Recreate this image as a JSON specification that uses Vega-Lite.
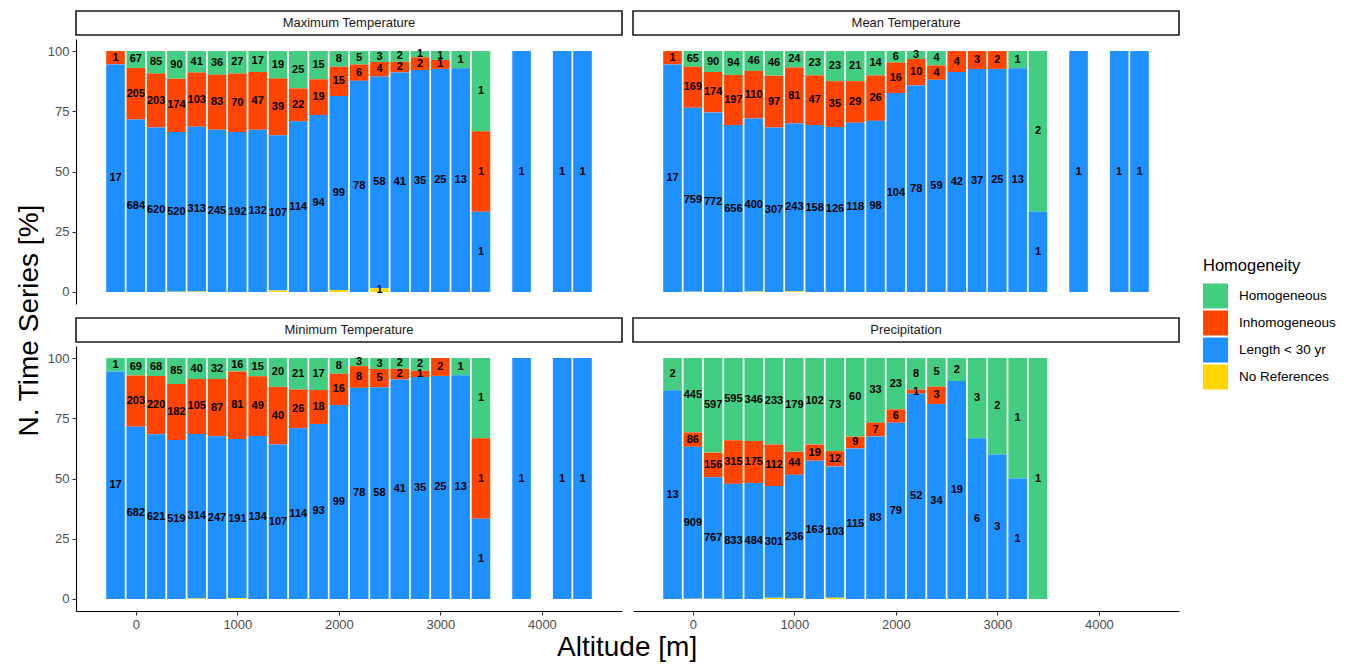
{
  "$schema": "https://vega.github.io/schema/vega-lite/v6.json",
  "padding": {"left": 16, "top": 10, "right": 5, "bottom": 0},
  "background": "white",
  "config": {"font": "Liberation Sans", "view": {"stroke": null}},
  "datasets": {
    "ts": [
      {"variable": "Maximum Temperature", "altitude": -200, "homogeneity": "Inhomogeneous", "n": 1},
      {"variable": "Maximum Temperature", "altitude": -200, "homogeneity": "Length < 30 yr", "n": 17},
      {"variable": "Maximum Temperature", "altitude": 0, "homogeneity": "Homogeneous", "n": 67},
      {"variable": "Maximum Temperature", "altitude": 0, "homogeneity": "Inhomogeneous", "n": 205},
      {"variable": "Maximum Temperature", "altitude": 0, "homogeneity": "Length < 30 yr", "n": 684},
      {"variable": "Maximum Temperature", "altitude": 200, "homogeneity": "Homogeneous", "n": 85},
      {"variable": "Maximum Temperature", "altitude": 200, "homogeneity": "Inhomogeneous", "n": 203},
      {"variable": "Maximum Temperature", "altitude": 200, "homogeneity": "Length < 30 yr", "n": 620},
      {"variable": "Maximum Temperature", "altitude": 400, "homogeneity": "Homogeneous", "n": 90},
      {"variable": "Maximum Temperature", "altitude": 400, "homogeneity": "Inhomogeneous", "n": 174},
      {"variable": "Maximum Temperature", "altitude": 400, "homogeneity": "Length < 30 yr", "n": 520},
      {"variable": "Maximum Temperature", "altitude": 400, "homogeneity": "No References", "n": 1},
      {"variable": "Maximum Temperature", "altitude": 600, "homogeneity": "Homogeneous", "n": 41},
      {"variable": "Maximum Temperature", "altitude": 600, "homogeneity": "Inhomogeneous", "n": 103},
      {"variable": "Maximum Temperature", "altitude": 600, "homogeneity": "Length < 30 yr", "n": 313},
      {"variable": "Maximum Temperature", "altitude": 600, "homogeneity": "No References", "n": 1},
      {"variable": "Maximum Temperature", "altitude": 800, "homogeneity": "Homogeneous", "n": 36},
      {"variable": "Maximum Temperature", "altitude": 800, "homogeneity": "Inhomogeneous", "n": 83},
      {"variable": "Maximum Temperature", "altitude": 800, "homogeneity": "Length < 30 yr", "n": 245},
      {"variable": "Maximum Temperature", "altitude": 1000, "homogeneity": "Homogeneous", "n": 27},
      {"variable": "Maximum Temperature", "altitude": 1000, "homogeneity": "Inhomogeneous", "n": 70},
      {"variable": "Maximum Temperature", "altitude": 1000, "homogeneity": "Length < 30 yr", "n": 192},
      {"variable": "Maximum Temperature", "altitude": 1200, "homogeneity": "Homogeneous", "n": 17},
      {"variable": "Maximum Temperature", "altitude": 1200, "homogeneity": "Inhomogeneous", "n": 47},
      {"variable": "Maximum Temperature", "altitude": 1200, "homogeneity": "Length < 30 yr", "n": 132},
      {"variable": "Maximum Temperature", "altitude": 1400, "homogeneity": "Homogeneous", "n": 19},
      {"variable": "Maximum Temperature", "altitude": 1400, "homogeneity": "Inhomogeneous", "n": 39},
      {"variable": "Maximum Temperature", "altitude": 1400, "homogeneity": "Length < 30 yr", "n": 107},
      {"variable": "Maximum Temperature", "altitude": 1400, "homogeneity": "No References", "n": 1},
      {"variable": "Maximum Temperature", "altitude": 1600, "homogeneity": "Homogeneous", "n": 25},
      {"variable": "Maximum Temperature", "altitude": 1600, "homogeneity": "Inhomogeneous", "n": 22},
      {"variable": "Maximum Temperature", "altitude": 1600, "homogeneity": "Length < 30 yr", "n": 114},
      {"variable": "Maximum Temperature", "altitude": 1800, "homogeneity": "Homogeneous", "n": 15},
      {"variable": "Maximum Temperature", "altitude": 1800, "homogeneity": "Inhomogeneous", "n": 19},
      {"variable": "Maximum Temperature", "altitude": 1800, "homogeneity": "Length < 30 yr", "n": 94},
      {"variable": "Maximum Temperature", "altitude": 2000, "homogeneity": "Homogeneous", "n": 8},
      {"variable": "Maximum Temperature", "altitude": 2000, "homogeneity": "Inhomogeneous", "n": 15},
      {"variable": "Maximum Temperature", "altitude": 2000, "homogeneity": "Length < 30 yr", "n": 99},
      {"variable": "Maximum Temperature", "altitude": 2000, "homogeneity": "No References", "n": 1},
      {"variable": "Maximum Temperature", "altitude": 2200, "homogeneity": "Homogeneous", "n": 5},
      {"variable": "Maximum Temperature", "altitude": 2200, "homogeneity": "Inhomogeneous", "n": 6},
      {"variable": "Maximum Temperature", "altitude": 2200, "homogeneity": "Length < 30 yr", "n": 78},
      {"variable": "Maximum Temperature", "altitude": 2400, "homogeneity": "Homogeneous", "n": 3},
      {"variable": "Maximum Temperature", "altitude": 2400, "homogeneity": "Inhomogeneous", "n": 4},
      {"variable": "Maximum Temperature", "altitude": 2400, "homogeneity": "Length < 30 yr", "n": 58},
      {"variable": "Maximum Temperature", "altitude": 2400, "homogeneity": "No References", "n": 1},
      {"variable": "Maximum Temperature", "altitude": 2600, "homogeneity": "Homogeneous", "n": 2},
      {"variable": "Maximum Temperature", "altitude": 2600, "homogeneity": "Inhomogeneous", "n": 2},
      {"variable": "Maximum Temperature", "altitude": 2600, "homogeneity": "Length < 30 yr", "n": 41},
      {"variable": "Maximum Temperature", "altitude": 2800, "homogeneity": "Homogeneous", "n": 1},
      {"variable": "Maximum Temperature", "altitude": 2800, "homogeneity": "Inhomogeneous", "n": 2},
      {"variable": "Maximum Temperature", "altitude": 2800, "homogeneity": "Length < 30 yr", "n": 35},
      {"variable": "Maximum Temperature", "altitude": 3000, "homogeneity": "Homogeneous", "n": 1},
      {"variable": "Maximum Temperature", "altitude": 3000, "homogeneity": "Inhomogeneous", "n": 1},
      {"variable": "Maximum Temperature", "altitude": 3000, "homogeneity": "Length < 30 yr", "n": 25},
      {"variable": "Maximum Temperature", "altitude": 3200, "homogeneity": "Homogeneous", "n": 1},
      {"variable": "Maximum Temperature", "altitude": 3200, "homogeneity": "Length < 30 yr", "n": 13},
      {"variable": "Maximum Temperature", "altitude": 3400, "homogeneity": "Homogeneous", "n": 1},
      {"variable": "Maximum Temperature", "altitude": 3400, "homogeneity": "Inhomogeneous", "n": 1},
      {"variable": "Maximum Temperature", "altitude": 3400, "homogeneity": "Length < 30 yr", "n": 1},
      {"variable": "Maximum Temperature", "altitude": 3800, "homogeneity": "Length < 30 yr", "n": 1},
      {"variable": "Maximum Temperature", "altitude": 4200, "homogeneity": "Length < 30 yr", "n": 1},
      {"variable": "Maximum Temperature", "altitude": 4400, "homogeneity": "Length < 30 yr", "n": 1},

      {"variable": "Mean Temperature", "altitude": -200, "homogeneity": "Inhomogeneous", "n": 1},
      {"variable": "Mean Temperature", "altitude": -200, "homogeneity": "Length < 30 yr", "n": 17},
      {"variable": "Mean Temperature", "altitude": 0, "homogeneity": "Homogeneous", "n": 65},
      {"variable": "Mean Temperature", "altitude": 0, "homogeneity": "Inhomogeneous", "n": 169},
      {"variable": "Mean Temperature", "altitude": 0, "homogeneity": "Length < 30 yr", "n": 759},
      {"variable": "Mean Temperature", "altitude": 0, "homogeneity": "No References", "n": 1},
      {"variable": "Mean Temperature", "altitude": 200, "homogeneity": "Homogeneous", "n": 90},
      {"variable": "Mean Temperature", "altitude": 200, "homogeneity": "Inhomogeneous", "n": 174},
      {"variable": "Mean Temperature", "altitude": 200, "homogeneity": "Length < 30 yr", "n": 772},
      {"variable": "Mean Temperature", "altitude": 400, "homogeneity": "Homogeneous", "n": 94},
      {"variable": "Mean Temperature", "altitude": 400, "homogeneity": "Inhomogeneous", "n": 197},
      {"variable": "Mean Temperature", "altitude": 400, "homogeneity": "Length < 30 yr", "n": 656},
      {"variable": "Mean Temperature", "altitude": 600, "homogeneity": "Homogeneous", "n": 46},
      {"variable": "Mean Temperature", "altitude": 600, "homogeneity": "Inhomogeneous", "n": 110},
      {"variable": "Mean Temperature", "altitude": 600, "homogeneity": "Length < 30 yr", "n": 400},
      {"variable": "Mean Temperature", "altitude": 600, "homogeneity": "No References", "n": 1},
      {"variable": "Mean Temperature", "altitude": 800, "homogeneity": "Homogeneous", "n": 46},
      {"variable": "Mean Temperature", "altitude": 800, "homogeneity": "Inhomogeneous", "n": 97},
      {"variable": "Mean Temperature", "altitude": 800, "homogeneity": "Length < 30 yr", "n": 307},
      {"variable": "Mean Temperature", "altitude": 1000, "homogeneity": "Homogeneous", "n": 24},
      {"variable": "Mean Temperature", "altitude": 1000, "homogeneity": "Inhomogeneous", "n": 81},
      {"variable": "Mean Temperature", "altitude": 1000, "homogeneity": "Length < 30 yr", "n": 243},
      {"variable": "Mean Temperature", "altitude": 1000, "homogeneity": "No References", "n": 1},
      {"variable": "Mean Temperature", "altitude": 1200, "homogeneity": "Homogeneous", "n": 23},
      {"variable": "Mean Temperature", "altitude": 1200, "homogeneity": "Inhomogeneous", "n": 47},
      {"variable": "Mean Temperature", "altitude": 1200, "homogeneity": "Length < 30 yr", "n": 158},
      {"variable": "Mean Temperature", "altitude": 1400, "homogeneity": "Homogeneous", "n": 23},
      {"variable": "Mean Temperature", "altitude": 1400, "homogeneity": "Inhomogeneous", "n": 35},
      {"variable": "Mean Temperature", "altitude": 1400, "homogeneity": "Length < 30 yr", "n": 126},
      {"variable": "Mean Temperature", "altitude": 1600, "homogeneity": "Homogeneous", "n": 21},
      {"variable": "Mean Temperature", "altitude": 1600, "homogeneity": "Inhomogeneous", "n": 29},
      {"variable": "Mean Temperature", "altitude": 1600, "homogeneity": "Length < 30 yr", "n": 118},
      {"variable": "Mean Temperature", "altitude": 1800, "homogeneity": "Homogeneous", "n": 14},
      {"variable": "Mean Temperature", "altitude": 1800, "homogeneity": "Inhomogeneous", "n": 26},
      {"variable": "Mean Temperature", "altitude": 1800, "homogeneity": "Length < 30 yr", "n": 98},
      {"variable": "Mean Temperature", "altitude": 2000, "homogeneity": "Homogeneous", "n": 6},
      {"variable": "Mean Temperature", "altitude": 2000, "homogeneity": "Inhomogeneous", "n": 16},
      {"variable": "Mean Temperature", "altitude": 2000, "homogeneity": "Length < 30 yr", "n": 104},
      {"variable": "Mean Temperature", "altitude": 2200, "homogeneity": "Homogeneous", "n": 3},
      {"variable": "Mean Temperature", "altitude": 2200, "homogeneity": "Inhomogeneous", "n": 10},
      {"variable": "Mean Temperature", "altitude": 2200, "homogeneity": "Length < 30 yr", "n": 78},
      {"variable": "Mean Temperature", "altitude": 2400, "homogeneity": "Homogeneous", "n": 4},
      {"variable": "Mean Temperature", "altitude": 2400, "homogeneity": "Inhomogeneous", "n": 4},
      {"variable": "Mean Temperature", "altitude": 2400, "homogeneity": "Length < 30 yr", "n": 59},
      {"variable": "Mean Temperature", "altitude": 2600, "homogeneity": "Inhomogeneous", "n": 4},
      {"variable": "Mean Temperature", "altitude": 2600, "homogeneity": "Length < 30 yr", "n": 42},
      {"variable": "Mean Temperature", "altitude": 2800, "homogeneity": "Inhomogeneous", "n": 3},
      {"variable": "Mean Temperature", "altitude": 2800, "homogeneity": "Length < 30 yr", "n": 37},
      {"variable": "Mean Temperature", "altitude": 3000, "homogeneity": "Inhomogeneous", "n": 2},
      {"variable": "Mean Temperature", "altitude": 3000, "homogeneity": "Length < 30 yr", "n": 25},
      {"variable": "Mean Temperature", "altitude": 3200, "homogeneity": "Homogeneous", "n": 1},
      {"variable": "Mean Temperature", "altitude": 3200, "homogeneity": "Length < 30 yr", "n": 13},
      {"variable": "Mean Temperature", "altitude": 3400, "homogeneity": "Homogeneous", "n": 2},
      {"variable": "Mean Temperature", "altitude": 3400, "homogeneity": "Length < 30 yr", "n": 1},
      {"variable": "Mean Temperature", "altitude": 3800, "homogeneity": "Length < 30 yr", "n": 1},
      {"variable": "Mean Temperature", "altitude": 4200, "homogeneity": "Length < 30 yr", "n": 1},
      {"variable": "Mean Temperature", "altitude": 4400, "homogeneity": "Length < 30 yr", "n": 1},

      {"variable": "Minimum Temperature", "altitude": -200, "homogeneity": "Homogeneous", "n": 1},
      {"variable": "Minimum Temperature", "altitude": -200, "homogeneity": "Length < 30 yr", "n": 17},
      {"variable": "Minimum Temperature", "altitude": 0, "homogeneity": "Homogeneous", "n": 69},
      {"variable": "Minimum Temperature", "altitude": 0, "homogeneity": "Inhomogeneous", "n": 203},
      {"variable": "Minimum Temperature", "altitude": 0, "homogeneity": "Length < 30 yr", "n": 682},
      {"variable": "Minimum Temperature", "altitude": 200, "homogeneity": "Homogeneous", "n": 68},
      {"variable": "Minimum Temperature", "altitude": 200, "homogeneity": "Inhomogeneous", "n": 220},
      {"variable": "Minimum Temperature", "altitude": 200, "homogeneity": "Length < 30 yr", "n": 621},
      {"variable": "Minimum Temperature", "altitude": 400, "homogeneity": "Homogeneous", "n": 85},
      {"variable": "Minimum Temperature", "altitude": 400, "homogeneity": "Inhomogeneous", "n": 182},
      {"variable": "Minimum Temperature", "altitude": 400, "homogeneity": "Length < 30 yr", "n": 519},
      {"variable": "Minimum Temperature", "altitude": 600, "homogeneity": "Homogeneous", "n": 40},
      {"variable": "Minimum Temperature", "altitude": 600, "homogeneity": "Inhomogeneous", "n": 105},
      {"variable": "Minimum Temperature", "altitude": 600, "homogeneity": "Length < 30 yr", "n": 314},
      {"variable": "Minimum Temperature", "altitude": 600, "homogeneity": "No References", "n": 1},
      {"variable": "Minimum Temperature", "altitude": 800, "homogeneity": "Homogeneous", "n": 32},
      {"variable": "Minimum Temperature", "altitude": 800, "homogeneity": "Inhomogeneous", "n": 87},
      {"variable": "Minimum Temperature", "altitude": 800, "homogeneity": "Length < 30 yr", "n": 247},
      {"variable": "Minimum Temperature", "altitude": 1000, "homogeneity": "Homogeneous", "n": 16},
      {"variable": "Minimum Temperature", "altitude": 1000, "homogeneity": "Inhomogeneous", "n": 81},
      {"variable": "Minimum Temperature", "altitude": 1000, "homogeneity": "Length < 30 yr", "n": 191},
      {"variable": "Minimum Temperature", "altitude": 1000, "homogeneity": "No References", "n": 1},
      {"variable": "Minimum Temperature", "altitude": 1200, "homogeneity": "Homogeneous", "n": 15},
      {"variable": "Minimum Temperature", "altitude": 1200, "homogeneity": "Inhomogeneous", "n": 49},
      {"variable": "Minimum Temperature", "altitude": 1200, "homogeneity": "Length < 30 yr", "n": 134},
      {"variable": "Minimum Temperature", "altitude": 1400, "homogeneity": "Homogeneous", "n": 20},
      {"variable": "Minimum Temperature", "altitude": 1400, "homogeneity": "Inhomogeneous", "n": 40},
      {"variable": "Minimum Temperature", "altitude": 1400, "homogeneity": "Length < 30 yr", "n": 107},
      {"variable": "Minimum Temperature", "altitude": 1600, "homogeneity": "Homogeneous", "n": 21},
      {"variable": "Minimum Temperature", "altitude": 1600, "homogeneity": "Inhomogeneous", "n": 26},
      {"variable": "Minimum Temperature", "altitude": 1600, "homogeneity": "Length < 30 yr", "n": 114},
      {"variable": "Minimum Temperature", "altitude": 1800, "homogeneity": "Homogeneous", "n": 17},
      {"variable": "Minimum Temperature", "altitude": 1800, "homogeneity": "Inhomogeneous", "n": 18},
      {"variable": "Minimum Temperature", "altitude": 1800, "homogeneity": "Length < 30 yr", "n": 93},
      {"variable": "Minimum Temperature", "altitude": 2000, "homogeneity": "Homogeneous", "n": 8},
      {"variable": "Minimum Temperature", "altitude": 2000, "homogeneity": "Inhomogeneous", "n": 16},
      {"variable": "Minimum Temperature", "altitude": 2000, "homogeneity": "Length < 30 yr", "n": 99},
      {"variable": "Minimum Temperature", "altitude": 2200, "homogeneity": "Homogeneous", "n": 3},
      {"variable": "Minimum Temperature", "altitude": 2200, "homogeneity": "Inhomogeneous", "n": 8},
      {"variable": "Minimum Temperature", "altitude": 2200, "homogeneity": "Length < 30 yr", "n": 78},
      {"variable": "Minimum Temperature", "altitude": 2400, "homogeneity": "Homogeneous", "n": 3},
      {"variable": "Minimum Temperature", "altitude": 2400, "homogeneity": "Inhomogeneous", "n": 5},
      {"variable": "Minimum Temperature", "altitude": 2400, "homogeneity": "Length < 30 yr", "n": 58},
      {"variable": "Minimum Temperature", "altitude": 2600, "homogeneity": "Homogeneous", "n": 2},
      {"variable": "Minimum Temperature", "altitude": 2600, "homogeneity": "Inhomogeneous", "n": 2},
      {"variable": "Minimum Temperature", "altitude": 2600, "homogeneity": "Length < 30 yr", "n": 41},
      {"variable": "Minimum Temperature", "altitude": 2800, "homogeneity": "Homogeneous", "n": 2},
      {"variable": "Minimum Temperature", "altitude": 2800, "homogeneity": "Inhomogeneous", "n": 1},
      {"variable": "Minimum Temperature", "altitude": 2800, "homogeneity": "Length < 30 yr", "n": 35},
      {"variable": "Minimum Temperature", "altitude": 3000, "homogeneity": "Inhomogeneous", "n": 2},
      {"variable": "Minimum Temperature", "altitude": 3000, "homogeneity": "Length < 30 yr", "n": 25},
      {"variable": "Minimum Temperature", "altitude": 3200, "homogeneity": "Homogeneous", "n": 1},
      {"variable": "Minimum Temperature", "altitude": 3200, "homogeneity": "Length < 30 yr", "n": 13},
      {"variable": "Minimum Temperature", "altitude": 3400, "homogeneity": "Homogeneous", "n": 1},
      {"variable": "Minimum Temperature", "altitude": 3400, "homogeneity": "Inhomogeneous", "n": 1},
      {"variable": "Minimum Temperature", "altitude": 3400, "homogeneity": "Length < 30 yr", "n": 1},
      {"variable": "Minimum Temperature", "altitude": 3800, "homogeneity": "Length < 30 yr", "n": 1},
      {"variable": "Minimum Temperature", "altitude": 4200, "homogeneity": "Length < 30 yr", "n": 1},
      {"variable": "Minimum Temperature", "altitude": 4400, "homogeneity": "Length < 30 yr", "n": 1},

      {"variable": "Precipitation", "altitude": -200, "homogeneity": "Homogeneous", "n": 2},
      {"variable": "Precipitation", "altitude": -200, "homogeneity": "Length < 30 yr", "n": 13},
      {"variable": "Precipitation", "altitude": 0, "homogeneity": "Homogeneous", "n": 445},
      {"variable": "Precipitation", "altitude": 0, "homogeneity": "Inhomogeneous", "n": 86},
      {"variable": "Precipitation", "altitude": 0, "homogeneity": "Length < 30 yr", "n": 909},
      {"variable": "Precipitation", "altitude": 0, "homogeneity": "No References", "n": 1},
      {"variable": "Precipitation", "altitude": 200, "homogeneity": "Homogeneous", "n": 597},
      {"variable": "Precipitation", "altitude": 200, "homogeneity": "Inhomogeneous", "n": 156},
      {"variable": "Precipitation", "altitude": 200, "homogeneity": "Length < 30 yr", "n": 767},
      {"variable": "Precipitation", "altitude": 200, "homogeneity": "No References", "n": 1},
      {"variable": "Precipitation", "altitude": 400, "homogeneity": "Homogeneous", "n": 595},
      {"variable": "Precipitation", "altitude": 400, "homogeneity": "Inhomogeneous", "n": 315},
      {"variable": "Precipitation", "altitude": 400, "homogeneity": "Length < 30 yr", "n": 833},
      {"variable": "Precipitation", "altitude": 600, "homogeneity": "Homogeneous", "n": 346},
      {"variable": "Precipitation", "altitude": 600, "homogeneity": "Inhomogeneous", "n": 175},
      {"variable": "Precipitation", "altitude": 600, "homogeneity": "Length < 30 yr", "n": 484},
      {"variable": "Precipitation", "altitude": 800, "homogeneity": "Homogeneous", "n": 233},
      {"variable": "Precipitation", "altitude": 800, "homogeneity": "Inhomogeneous", "n": 112},
      {"variable": "Precipitation", "altitude": 800, "homogeneity": "Length < 30 yr", "n": 301},
      {"variable": "Precipitation", "altitude": 800, "homogeneity": "No References", "n": 3},
      {"variable": "Precipitation", "altitude": 1000, "homogeneity": "Homogeneous", "n": 179},
      {"variable": "Precipitation", "altitude": 1000, "homogeneity": "Inhomogeneous", "n": 44},
      {"variable": "Precipitation", "altitude": 1000, "homogeneity": "Length < 30 yr", "n": 236},
      {"variable": "Precipitation", "altitude": 1000, "homogeneity": "No References", "n": 1},
      {"variable": "Precipitation", "altitude": 1200, "homogeneity": "Homogeneous", "n": 102},
      {"variable": "Precipitation", "altitude": 1200, "homogeneity": "Inhomogeneous", "n": 19},
      {"variable": "Precipitation", "altitude": 1200, "homogeneity": "Length < 30 yr", "n": 163},
      {"variable": "Precipitation", "altitude": 1400, "homogeneity": "Homogeneous", "n": 73},
      {"variable": "Precipitation", "altitude": 1400, "homogeneity": "Inhomogeneous", "n": 12},
      {"variable": "Precipitation", "altitude": 1400, "homogeneity": "Length < 30 yr", "n": 103},
      {"variable": "Precipitation", "altitude": 1400, "homogeneity": "No References", "n": 1},
      {"variable": "Precipitation", "altitude": 1600, "homogeneity": "Homogeneous", "n": 60},
      {"variable": "Precipitation", "altitude": 1600, "homogeneity": "Inhomogeneous", "n": 9},
      {"variable": "Precipitation", "altitude": 1600, "homogeneity": "Length < 30 yr", "n": 115},
      {"variable": "Precipitation", "altitude": 1800, "homogeneity": "Homogeneous", "n": 33},
      {"variable": "Precipitation", "altitude": 1800, "homogeneity": "Inhomogeneous", "n": 7},
      {"variable": "Precipitation", "altitude": 1800, "homogeneity": "Length < 30 yr", "n": 83},
      {"variable": "Precipitation", "altitude": 2000, "homogeneity": "Homogeneous", "n": 23},
      {"variable": "Precipitation", "altitude": 2000, "homogeneity": "Inhomogeneous", "n": 6},
      {"variable": "Precipitation", "altitude": 2000, "homogeneity": "Length < 30 yr", "n": 79},
      {"variable": "Precipitation", "altitude": 2200, "homogeneity": "Homogeneous", "n": 8},
      {"variable": "Precipitation", "altitude": 2200, "homogeneity": "Inhomogeneous", "n": 1},
      {"variable": "Precipitation", "altitude": 2200, "homogeneity": "Length < 30 yr", "n": 52},
      {"variable": "Precipitation", "altitude": 2400, "homogeneity": "Homogeneous", "n": 5},
      {"variable": "Precipitation", "altitude": 2400, "homogeneity": "Inhomogeneous", "n": 3},
      {"variable": "Precipitation", "altitude": 2400, "homogeneity": "Length < 30 yr", "n": 34},
      {"variable": "Precipitation", "altitude": 2600, "homogeneity": "Homogeneous", "n": 2},
      {"variable": "Precipitation", "altitude": 2600, "homogeneity": "Length < 30 yr", "n": 19},
      {"variable": "Precipitation", "altitude": 2800, "homogeneity": "Homogeneous", "n": 3},
      {"variable": "Precipitation", "altitude": 2800, "homogeneity": "Length < 30 yr", "n": 6},
      {"variable": "Precipitation", "altitude": 3000, "homogeneity": "Homogeneous", "n": 2},
      {"variable": "Precipitation", "altitude": 3000, "homogeneity": "Length < 30 yr", "n": 3},
      {"variable": "Precipitation", "altitude": 3200, "homogeneity": "Homogeneous", "n": 1},
      {"variable": "Precipitation", "altitude": 3200, "homogeneity": "Length < 30 yr", "n": 1},
      {"variable": "Precipitation", "altitude": 3400, "homogeneity": "Homogeneous", "n": 1}
    ]
  },
  "title": {"text": "Altitude [m]", "orient": "bottom", "anchor": "middle", "fontSize": 28, "fontWeight": "normal", "color": "black", "offset": 3, "dx": -49},
  "resolve": {"scale": {"color": "shared"}, "legend": {"color": "shared"}},
  "vconcat": [
    {
      "title": {"text": "N. Time Series [%]", "orient": "left", "anchor": "middle", "fontSize": 28, "fontWeight": "normal", "color": "black", "offset": 3},
      "spacing": 13,
      "resolve": {"scale": {"color": "shared"}, "legend": {"color": "shared"}},
      "vconcat": [
        {
          "spacing": 9,
          "hconcat": [
            {
              "spacing": 4, "bounds": "flush",
              "vconcat": [
                {
                  "data": {"values": [{"variable": "Maximum Temperature"}]},
                  "width": 546, "height": 24,
                  "view": {"stroke": "#1a1a1a", "strokeWidth": 1.6, "fill": "white"},
                  "mark": {"type": "text", "fontSize": 13, "color": "#1a1a1a", "baseline": "middle", "align": "center"},
                  "encoding": {"text": {"field": "variable", "type": "nominal"}}
                },
                {
                  "width": 546, "height": 265,
                  "data": {"name": "ts"},
                  "transform": [
                    {"filter": "datum.variable === 'Maximum Temperature'"},
                    {"joinaggregate": [{"op": "sum", "field": "n", "as": "total"}], "groupby": ["altitude"]},
                    {"calculate": "100 * datum.n / datum.total", "as": "pct"},
                    {"calculate": "indexof(['No References', 'Length < 30 yr', 'Inhomogeneous', 'Homogeneous'], datum.homogeneity)", "as": "ord"},
                    {"stack": "pct", "groupby": ["altitude"], "sort": [{"field": "ord", "order": "ascending"}], "as": ["y0", "y1"]},
                    {"calculate": "(datum.y0 + datum.y1) / 2", "as": "ymid"}
                  ],
                  "encoding": {
                    "x": {"field": "altitude", "type": "quantitative", "scale": {"domain": [-540, 4740], "nice": false, "zero": false}, "axis": null}
                  },
                  "layer": [
                    {
                      "mark": {"type": "bar", "width": 18.6},
                      "encoding": {
                        "y": {"field": "y0", "type": "quantitative", "scale": {"domain": [-5, 105], "nice": false, "zero": false},
                          "axis": {"values": [0, 25, 50, 75, 100], "grid": false, "domainColor": "black", "domainWidth": 1.1, "tickColor": "#333333", "tickSize": 4, "tickWidth": 1.1, "labelColor": "#4d4d4d", "labelFontSize": 13, "labelPadding": 3, "title": null}},
                        "y2": {"field": "y1"},
                        "color": {"field": "homogeneity", "type": "nominal",
                          "scale": {"domain": ["Homogeneous", "Inhomogeneous", "Length < 30 yr", "No References"], "range": ["#43CD80", "#FF4500", "#1E90FF", "#FFD700"]},
                          "legend": {"title": "Homogeneity", "orient": "none", "legendX": 1127, "legendY": 247, "titleFontSize": 16.5, "titleFontWeight": "normal", "titleColor": "black", "titlePadding": 9, "labelFontSize": 13.5, "labelColor": "black", "labelOffset": 11, "symbolType": "square", "symbolSize": 625, "symbolStrokeWidth": 0, "symbolOpacity": 1, "rowPadding": 2}}
                      }
                    },
                    {
                      "transform": [{"filter": "datum.pct >= 1"}],
                      "mark": {"type": "text", "fontSize": 11, "fontWeight": "bold", "color": "black", "baseline": "middle", "align": "center"},
                      "encoding": {
                        "y": {"field": "ymid", "type": "quantitative",
                          "axis": {"values": [0, 25, 50, 75, 100], "grid": false, "domainColor": "black", "domainWidth": 1.1, "tickColor": "#333333", "tickSize": 4, "tickWidth": 1.1, "labelColor": "#4d4d4d", "labelFontSize": 13, "labelPadding": 3, "title": null}},
                        "text": {"field": "n", "type": "quantitative"}
                      }
                    }
                  ]
                }
              ]
            },
            {
              "spacing": 4, "bounds": "flush",
              "vconcat": [
                {
                  "data": {"values": [{"variable": "Mean Temperature"}]},
                  "width": 546, "height": 24,
                  "view": {"stroke": "#1a1a1a", "strokeWidth": 1.6, "fill": "white"},
                  "mark": {"type": "text", "fontSize": 13, "color": "#1a1a1a", "baseline": "middle", "align": "center"},
                  "encoding": {"text": {"field": "variable", "type": "nominal"}}
                },
                {
                  "width": 546, "height": 265,
                  "data": {"name": "ts"},
                  "transform": [
                    {"filter": "datum.variable === 'Mean Temperature'"},
                    {"joinaggregate": [{"op": "sum", "field": "n", "as": "total"}], "groupby": ["altitude"]},
                    {"calculate": "100 * datum.n / datum.total", "as": "pct"},
                    {"calculate": "indexof(['No References', 'Length < 30 yr', 'Inhomogeneous', 'Homogeneous'], datum.homogeneity)", "as": "ord"},
                    {"stack": "pct", "groupby": ["altitude"], "sort": [{"field": "ord", "order": "ascending"}], "as": ["y0", "y1"]},
                    {"calculate": "(datum.y0 + datum.y1) / 2", "as": "ymid"}
                  ],
                  "encoding": {
                    "x": {"field": "altitude", "type": "quantitative", "scale": {"domain": [-540, 4740], "nice": false, "zero": false}, "axis": null}
                  },
                  "layer": [
                    {
                      "mark": {"type": "bar", "width": 18.6},
                      "encoding": {
                        "y": {"field": "y0", "type": "quantitative", "scale": {"domain": [-5, 105], "nice": false, "zero": false}, "axis": null},
                        "y2": {"field": "y1"},
                        "color": {"field": "homogeneity", "type": "nominal",
                          "scale": {"domain": ["Homogeneous", "Inhomogeneous", "Length < 30 yr", "No References"], "range": ["#43CD80", "#FF4500", "#1E90FF", "#FFD700"]},
                          "legend": {"title": "Homogeneity", "orient": "none", "legendX": 1127, "legendY": 247, "titleFontSize": 16.5, "titleFontWeight": "normal", "titleColor": "black", "titlePadding": 9, "labelFontSize": 13.5, "labelColor": "black", "labelOffset": 11, "symbolType": "square", "symbolSize": 625, "symbolStrokeWidth": 0, "symbolOpacity": 1, "rowPadding": 2}}
                      }
                    },
                    {
                      "transform": [{"filter": "datum.pct >= 1"}],
                      "mark": {"type": "text", "fontSize": 11, "fontWeight": "bold", "color": "black", "baseline": "middle", "align": "center"},
                      "encoding": {
                        "y": {"field": "ymid", "type": "quantitative", "axis": null},
                        "text": {"field": "n", "type": "quantitative"}
                      }
                    }
                  ]
                }
              ]
            }
          ]
        },
        {
          "spacing": 9,
          "hconcat": [
            {
              "spacing": 4, "bounds": "flush",
              "vconcat": [
                {
                  "data": {"values": [{"variable": "Minimum Temperature"}]},
                  "width": 546, "height": 24,
                  "view": {"stroke": "#1a1a1a", "strokeWidth": 1.6, "fill": "white"},
                  "mark": {"type": "text", "fontSize": 13, "color": "#1a1a1a", "baseline": "middle", "align": "center"},
                  "encoding": {"text": {"field": "variable", "type": "nominal"}}
                },
                {
                  "width": 546, "height": 265,
                  "data": {"name": "ts"},
                  "transform": [
                    {"filter": "datum.variable === 'Minimum Temperature'"},
                    {"joinaggregate": [{"op": "sum", "field": "n", "as": "total"}], "groupby": ["altitude"]},
                    {"calculate": "100 * datum.n / datum.total", "as": "pct"},
                    {"calculate": "indexof(['No References', 'Length < 30 yr', 'Inhomogeneous', 'Homogeneous'], datum.homogeneity)", "as": "ord"},
                    {"stack": "pct", "groupby": ["altitude"], "sort": [{"field": "ord", "order": "ascending"}], "as": ["y0", "y1"]},
                    {"calculate": "(datum.y0 + datum.y1) / 2", "as": "ymid"}
                  ],
                  "encoding": {
                    "x": {"field": "altitude", "type": "quantitative", "scale": {"domain": [-540, 4740], "nice": false, "zero": false},
                      "axis": {"values": [0, 1000, 2000, 3000, 4000], "format": "d", "grid": false, "domainColor": "black", "domainWidth": 1.1, "tickColor": "#333333", "tickSize": 4, "tickWidth": 1.1, "labelColor": "#4d4d4d", "labelFontSize": 13, "labelPadding": 3, "title": null}}
                  },
                  "layer": [
                    {
                      "mark": {"type": "bar", "width": 18.6},
                      "encoding": {
                        "y": {"field": "y0", "type": "quantitative", "scale": {"domain": [-5, 105], "nice": false, "zero": false},
                          "axis": {"values": [0, 25, 50, 75, 100], "grid": false, "domainColor": "black", "domainWidth": 1.1, "tickColor": "#333333", "tickSize": 4, "tickWidth": 1.1, "labelColor": "#4d4d4d", "labelFontSize": 13, "labelPadding": 3, "title": null}},
                        "y2": {"field": "y1"},
                        "color": {"field": "homogeneity", "type": "nominal",
                          "scale": {"domain": ["Homogeneous", "Inhomogeneous", "Length < 30 yr", "No References"], "range": ["#43CD80", "#FF4500", "#1E90FF", "#FFD700"]},
                          "legend": {"title": "Homogeneity", "orient": "none", "legendX": 1127, "legendY": 247, "titleFontSize": 16.5, "titleFontWeight": "normal", "titleColor": "black", "titlePadding": 9, "labelFontSize": 13.5, "labelColor": "black", "labelOffset": 11, "symbolType": "square", "symbolSize": 625, "symbolStrokeWidth": 0, "symbolOpacity": 1, "rowPadding": 2}}
                      }
                    },
                    {
                      "transform": [{"filter": "datum.pct >= 1"}],
                      "mark": {"type": "text", "fontSize": 11, "fontWeight": "bold", "color": "black", "baseline": "middle", "align": "center"},
                      "encoding": {
                        "y": {"field": "ymid", "type": "quantitative",
                          "axis": {"values": [0, 25, 50, 75, 100], "grid": false, "domainColor": "black", "domainWidth": 1.1, "tickColor": "#333333", "tickSize": 4, "tickWidth": 1.1, "labelColor": "#4d4d4d", "labelFontSize": 13, "labelPadding": 3, "title": null}},
                        "text": {"field": "n", "type": "quantitative"}
                      }
                    }
                  ]
                }
              ]
            },
            {
              "spacing": 4, "bounds": "flush",
              "vconcat": [
                {
                  "data": {"values": [{"variable": "Precipitation"}]},
                  "width": 546, "height": 24,
                  "view": {"stroke": "#1a1a1a", "strokeWidth": 1.6, "fill": "white"},
                  "mark": {"type": "text", "fontSize": 13, "color": "#1a1a1a", "baseline": "middle", "align": "center"},
                  "encoding": {"text": {"field": "variable", "type": "nominal"}}
                },
                {
                  "width": 546, "height": 265,
                  "data": {"name": "ts"},
                  "transform": [
                    {"filter": "datum.variable === 'Precipitation'"},
                    {"joinaggregate": [{"op": "sum", "field": "n", "as": "total"}], "groupby": ["altitude"]},
                    {"calculate": "100 * datum.n / datum.total", "as": "pct"},
                    {"calculate": "indexof(['No References', 'Length < 30 yr', 'Inhomogeneous', 'Homogeneous'], datum.homogeneity)", "as": "ord"},
                    {"stack": "pct", "groupby": ["altitude"], "sort": [{"field": "ord", "order": "ascending"}], "as": ["y0", "y1"]},
                    {"calculate": "(datum.y0 + datum.y1) / 2", "as": "ymid"}
                  ],
                  "encoding": {
                    "x": {"field": "altitude", "type": "quantitative", "scale": {"domain": [-540, 4740], "nice": false, "zero": false},
                      "axis": {"values": [0, 1000, 2000, 3000, 4000], "format": "d", "grid": false, "domainColor": "black", "domainWidth": 1.1, "tickColor": "#333333", "tickSize": 4, "tickWidth": 1.1, "labelColor": "#4d4d4d", "labelFontSize": 13, "labelPadding": 3, "title": null}}
                  },
                  "layer": [
                    {
                      "mark": {"type": "bar", "width": 18.6},
                      "encoding": {
                        "y": {"field": "y0", "type": "quantitative", "scale": {"domain": [-5, 105], "nice": false, "zero": false}, "axis": null},
                        "y2": {"field": "y1"},
                        "color": {"field": "homogeneity", "type": "nominal",
                          "scale": {"domain": ["Homogeneous", "Inhomogeneous", "Length < 30 yr", "No References"], "range": ["#43CD80", "#FF4500", "#1E90FF", "#FFD700"]},
                          "legend": {"title": "Homogeneity", "orient": "none", "legendX": 1127, "legendY": 247, "titleFontSize": 16.5, "titleFontWeight": "normal", "titleColor": "black", "titlePadding": 9, "labelFontSize": 13.5, "labelColor": "black", "labelOffset": 11, "symbolType": "square", "symbolSize": 625, "symbolStrokeWidth": 0, "symbolOpacity": 1, "rowPadding": 2}}
                      }
                    },
                    {
                      "transform": [{"filter": "datum.pct >= 1"}],
                      "mark": {"type": "text", "fontSize": 11, "fontWeight": "bold", "color": "black", "baseline": "middle", "align": "center"},
                      "encoding": {
                        "y": {"field": "ymid", "type": "quantitative", "axis": null},
                        "text": {"field": "n", "type": "quantitative"}
                      }
                    }
                  ]
                }
              ]
            }
          ]
        }
      ]
    }
  ]
}
